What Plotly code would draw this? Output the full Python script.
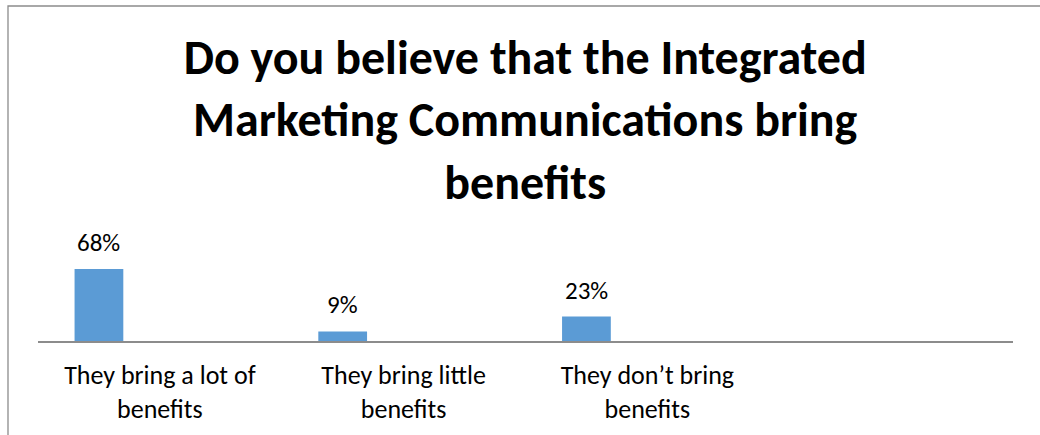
import plotly.graph_objects as go

# Survey answers and their shares (%)
categories = ["They bring a lot of<br>benefits", "They bring little<br>benefits", "They don’t bring<br>benefits"]
shares = [68, 9, 23]
n_slots = 4  # category slots on the axis (last one left empty)

title_text = "Do you believe that the Integrated<br>Marketing Communications bring<br>benefits"

W, H = 1040, 435
ML, MR, MT, MB = 38, 27, 235, 94
BAR_COLOR = "#5B9BD5"
FONT = "Carlito, Lato, Calibri, sans-serif"

bar_offset = 0.25
bar_width = 0.2
idx = list(range(len(categories)))
bar_x = [i + bar_offset for i in idx]
tick_x = [i + 0.5 for i in idx]

fig = go.Figure(go.Bar(
    x=bar_x, y=shares, width=bar_width,
    marker=dict(color=BAR_COLOR, line=dict(width=0)),
    hoverinfo="skip",
))

# value labels above the bars
for xv, v in zip(bar_x, shares):
    fig.add_annotation(x=xv, y=v, text=f"{v}%", showarrow=False,
                       yanchor="bottom", yshift=9,
                       font=dict(family=FONT, size=25, color="#000000"))

# outer frame of the chart (left and top edges)
pw, ph = W - ML - MR, H - MT - MB
def px_x(p):
    return (p - ML) / pw
def px_y(p):
    return (H - MB - p) / ph
fig.add_shape(type="path", xref="paper", yref="paper",
              path=f"M {px_x(8)},{px_y(H + 10)} L {px_x(8)},{px_y(6)} L {px_x(W + 10)},{px_y(6)}",
              line=dict(color="#8C8C8C", width=1.3))

fig.update_layout(
    width=W, height=H,
    margin=dict(l=ML, r=MR, t=MT, b=MB, autoexpand=False),
    paper_bgcolor="white", plot_bgcolor="white",
    showlegend=False,
    title=dict(text=title_text, x=0.505, xanchor="center",
               y=1 - 74 / H, yanchor="middle", yref="container",
               font=dict(family=FONT, size=48, color="#000000", weight="bold")),
    xaxis=dict(range=[0, n_slots], showgrid=False, zeroline=False,
               automargin=False,
               showline=True, linecolor="#8C8C8C", linewidth=1.5,
               tickmode="array", tickvals=tick_x, ticktext=categories,
               ticks="", ticklabelstandoff=10,
               tickfont=dict(family=FONT, size=26, color="#000000")),
    yaxis=dict(range=[0, 100], visible=False, showgrid=False, zeroline=False,
               automargin=False),
)

fig.write_html("out.html")
